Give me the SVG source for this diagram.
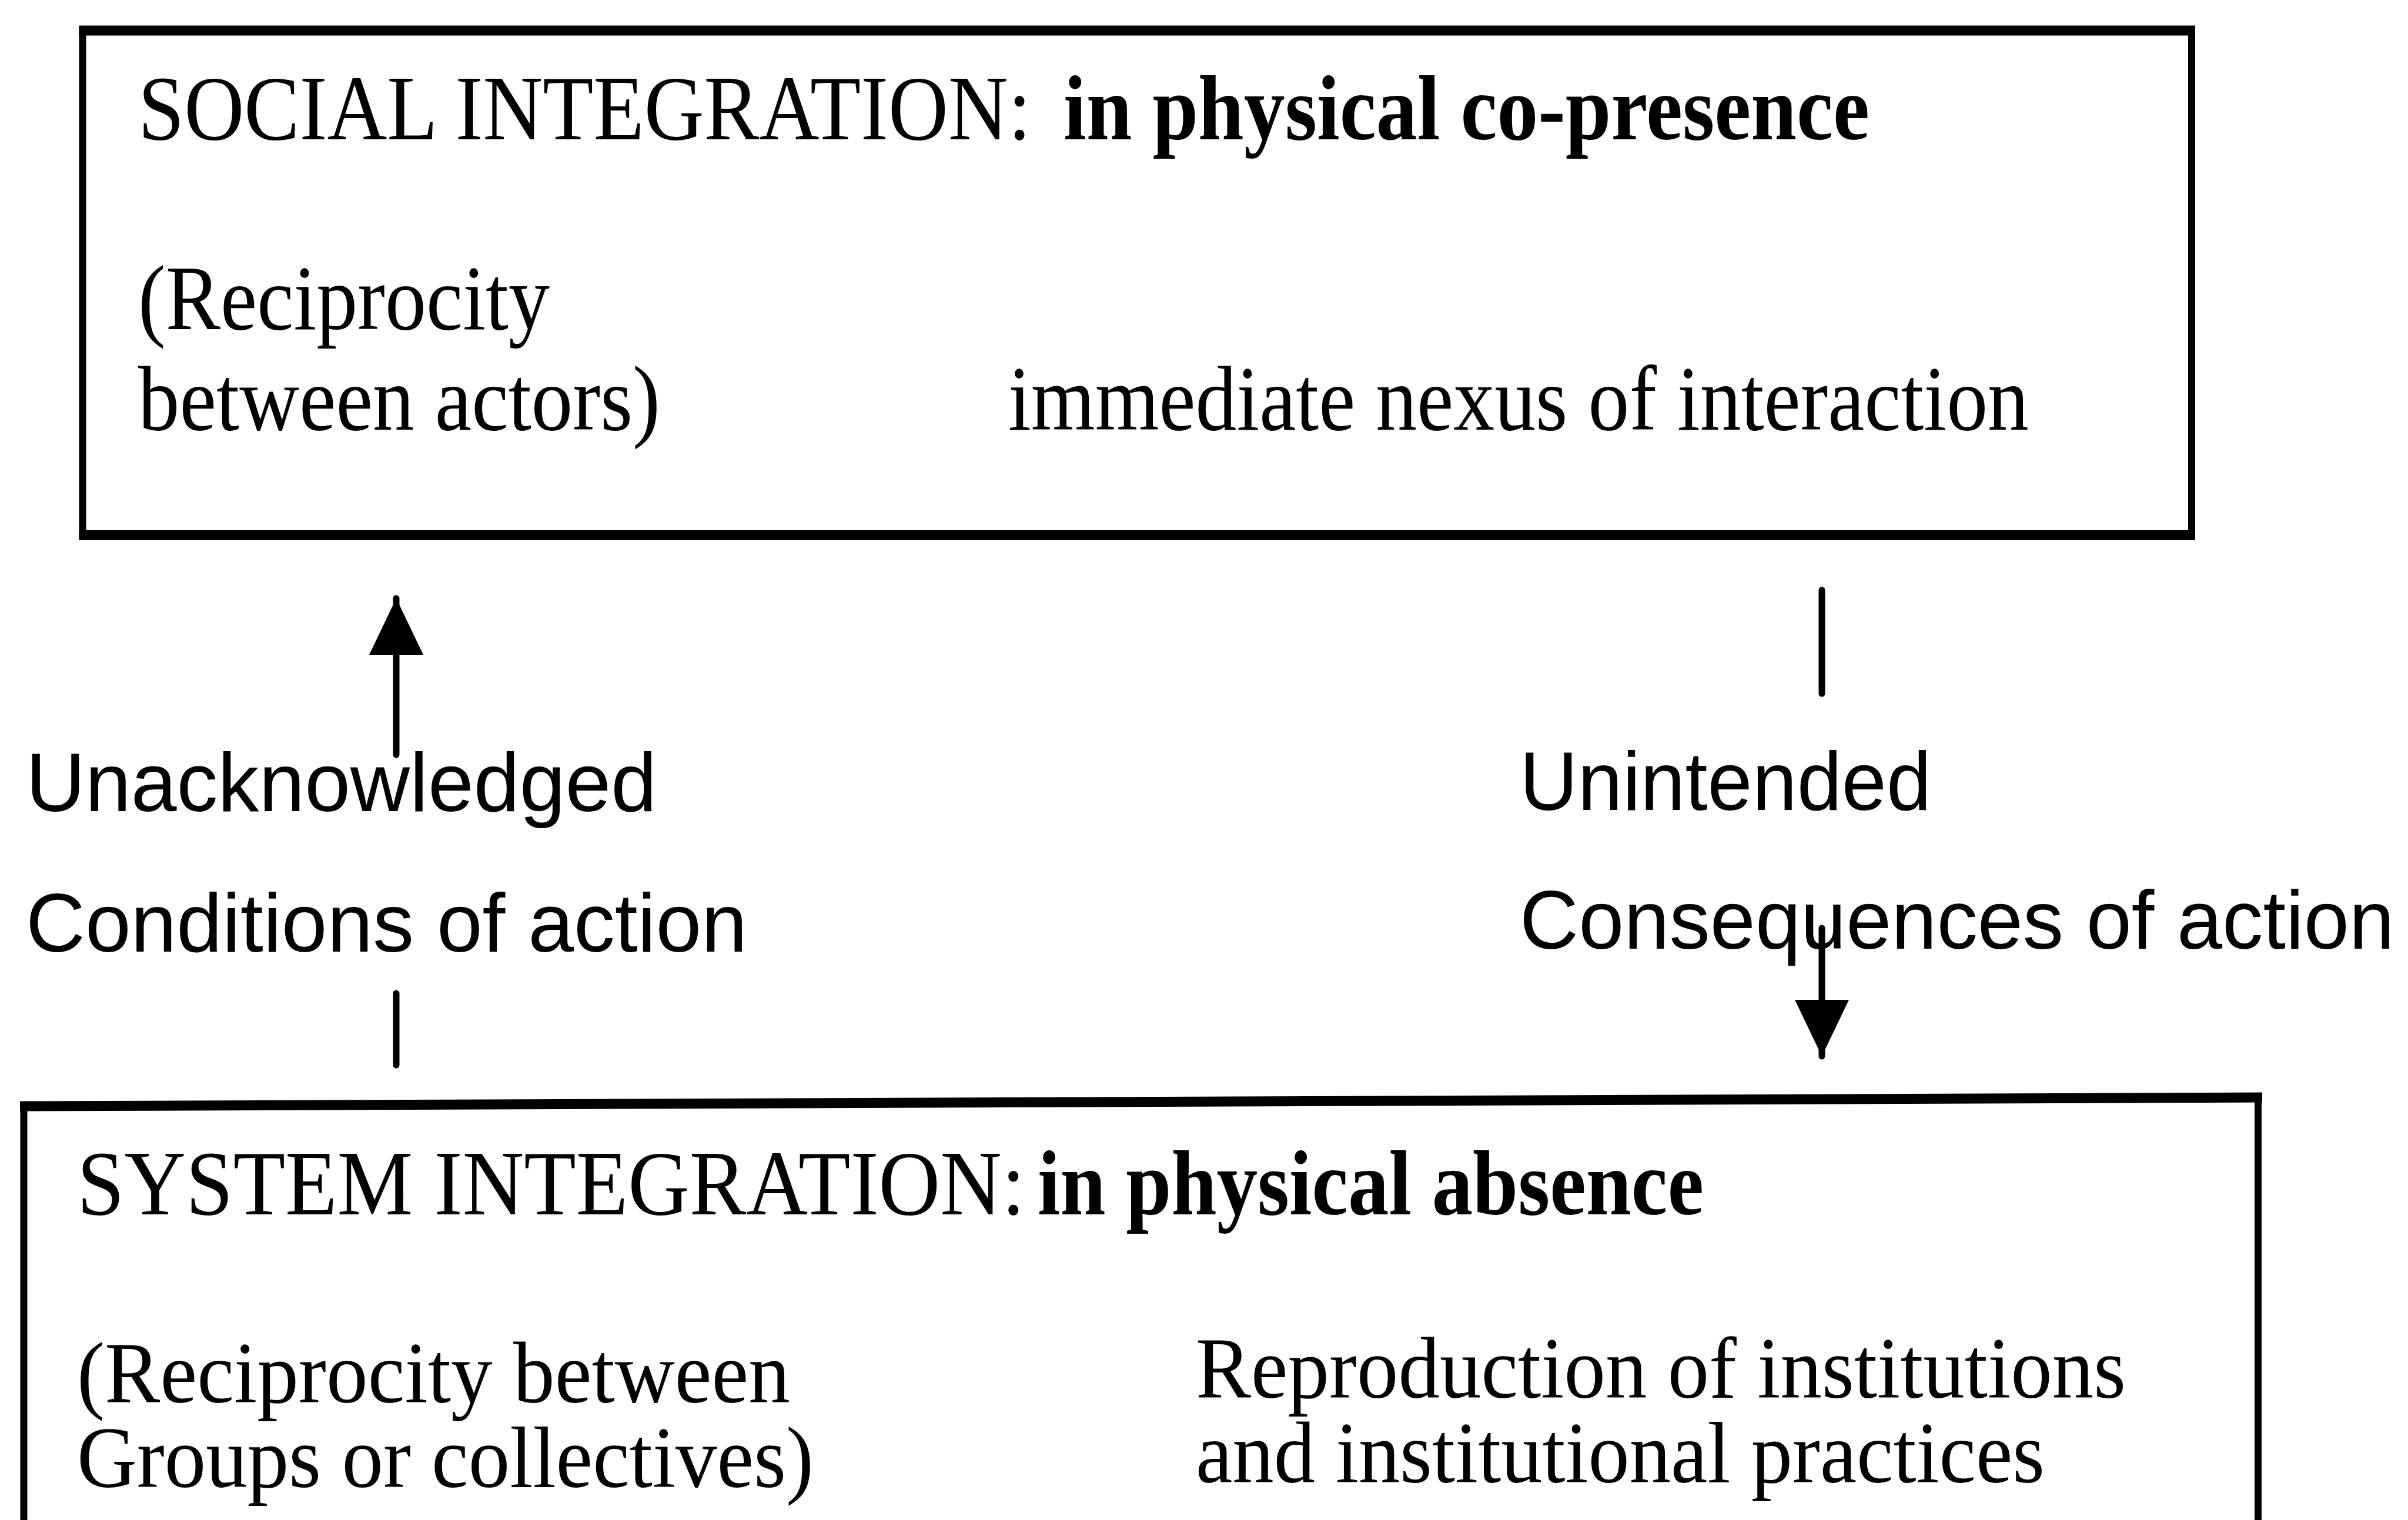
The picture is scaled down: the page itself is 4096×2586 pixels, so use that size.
<svg xmlns="http://www.w3.org/2000/svg" width="4096" height="2586" viewBox="0 0 4096 2586">
<style>
.bg{fill:#ffffff}
.side{fill:none;stroke:#000;stroke-width:12}
.edge{fill:none;stroke:#000;stroke-width:17;stroke-linecap:butt}
.conn{fill:none;stroke:#000;stroke-width:11;stroke-linecap:round}
.serif{font-family:"Liberation Serif","Times New Roman",serif;font-size:156px;fill:#000}
.sm{font-size:148px}
.b{font-weight:bold}
.sans{font-family:"Liberation Sans",Arial,sans-serif;font-size:141px;fill:#000}
</style>
<defs>
<marker id="ah" markerUnits="userSpaceOnUse" viewBox="0 0 96 92" refX="96" refY="46" markerWidth="96" markerHeight="92" orient="auto">
<path d="M0,0 L96,46 L0,92 Z" fill="#000"/>
</marker>
</defs>
<rect class="bg" x="0" y="0" width="4096" height="2586"/>
<g id="social-integration">
<rect class="side" x="140.5" y="52" width="3587.5" height="858.5"/>
<line class="edge" x1="134.5" y1="52" x2="3734" y2="52"/>
<line class="edge" x1="134.5" y1="910.5" x2="3734" y2="910.5"/>
<text class="serif" x="235" y="237" textLength="1519" lengthAdjust="spacingAndGlyphs">SOCIAL INTEGRATION:</text>
<text class="serif b" x="1809" y="237" textLength="1371" lengthAdjust="spacingAndGlyphs">in physical co-presence</text>
<text class="serif" x="235" y="560" textLength="700" lengthAdjust="spacingAndGlyphs">(Reciprocity</text>
<text class="serif" x="235" y="731" textLength="888" lengthAdjust="spacingAndGlyphs">between actors)</text>
<text class="serif" x="1715" y="731" textLength="1736" lengthAdjust="spacingAndGlyphs">immediate nexus of interaction</text>
</g>
<g id="system-integration">
<path class="side" d="M40.5,2600 L40.5,1882 M3841,1867 L3841,2600"/>
<line class="edge" x1="34" y1="1882" x2="3848" y2="1867"/>
<text class="serif" x="131" y="2066" textLength="1613" lengthAdjust="spacingAndGlyphs">SYSTEM INTEGRATION:</text>
<text class="serif b" x="1765" y="2066" textLength="1133" lengthAdjust="spacingAndGlyphs">in physical absence</text>
<text class="serif sm" x="131" y="2386" textLength="1213" lengthAdjust="spacingAndGlyphs">(Reciprocity between</text>
<text class="serif sm" x="131" y="2530" textLength="1253" lengthAdjust="spacingAndGlyphs">Groups or collectives)</text>
<text class="serif sm" x="2034" y="2378" textLength="1582" lengthAdjust="spacingAndGlyphs">Reproduction of institutions</text>
<text class="serif sm" x="2034" y="2522" textLength="1444" lengthAdjust="spacingAndGlyphs">and institutional practices</text>
</g>
<g id="unacknowledged-conditions">
<text class="sans" x="44" y="1380" textLength="1073" lengthAdjust="spacingAndGlyphs">Unacknowledged</text>
<text class="sans" x="44" y="1619" textLength="1227" lengthAdjust="spacingAndGlyphs">Conditions of action</text>
</g>
<g id="unintended-consequences">
<text class="sans" x="2585" y="1378" textLength="700" lengthAdjust="spacingAndGlyphs">Unintended</text>
<text class="sans" x="2585" y="1614" textLength="1488" lengthAdjust="spacingAndGlyphs">Consequences of action</text>
</g>
<g id="connectors">
<line class="conn" x1="674" y1="1284" x2="674" y2="1018" marker-end="url(#ah)"/>
<line class="conn" x1="674" y1="1690" x2="674" y2="1812"/>
<line class="conn" x1="3099" y1="1004" x2="3099" y2="1180"/>
<line class="conn" x1="3099" y1="1579" x2="3099" y2="1797" marker-end="url(#ah)"/>
</g>
</svg>
